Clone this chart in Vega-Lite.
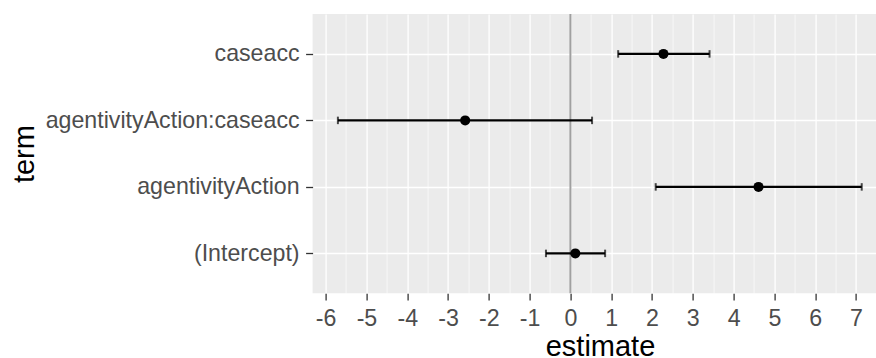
{
  "$schema": "https://vega.github.io/schema/vega-lite/v6.json",
  "autosize": {"type": "none"},
  "padding": {"left": 312.6, "top": 14, "right": 0, "bottom": 64.7},
  "width": 563.4,
  "height": 279.3,
  "background": "white",
  "config": {
    "view": {"fill": "#EBEBEB", "stroke": null},
    "font": "Liberation Sans"
  },
  "datasets": {
    "coefs": [
      {"term": "caseacc", "estimate": 2.28, "lower": 1.17, "upper": 3.41},
      {"term": "agentivityAction:caseacc", "estimate": -2.58, "lower": -5.70, "upper": 0.53},
      {"term": "agentivityAction", "estimate": 4.61, "lower": 2.09, "upper": 7.14},
      {"term": "(Intercept)", "estimate": 0.12, "lower": -0.60, "upper": 0.85}
    ],
    "ref": [{"ref": 0}]
  },
  "resolve": {"axis": {"x": "independent"}},
  "layer": [
    {
      "data": {"name": "ref"},
      "mark": {"type": "rule", "color": "#A0A0A0", "strokeWidth": 2},
      "encoding": {
        "x": {
          "field": "ref", "type": "quantitative",
          "scale": {"domain": [-6.32, 7.49], "nice": false, "zero": false},
          "axis": {
            "orient": "top", "values": [-5.5, -4.5, -3.5, -2.5, -1.5, -0.5, 0.5, 1.5, 2.5, 3.5, 4.5, 5.5, 6.5],
            "grid": true, "gridColor": "#FFFFFF", "gridWidth": 0.6, "gridOpacity": 1,
            "labels": false, "ticks": false, "domain": false, "title": null
          }
        }
      }
    },
    {
      "data": {"name": "coefs"},
      "mark": {"type": "rule", "color": "black", "strokeWidth": 2.2},
      "encoding": {
        "x": {
          "field": "lower", "type": "quantitative",
          "scale": {"domain": [-6.32, 7.49], "nice": false, "zero": false},
          "axis": {
            "orient": "bottom",
            "values": [-6, -5, -4, -3, -2, -1, 0, 1, 2, 3, 4, 5, 6, 7],
            "labelExpr": "toString(datum.value)",
            "grid": true, "gridColor": "#FFFFFF", "gridWidth": 1.3, "gridOpacity": 1,
            "domain": false,
            "ticks": true, "tickColor": "#333333", "tickSize": 6.7, "tickWidth": 1.3,
            "labelFontSize": 23.2, "labelColor": "#4D4D4D", "labelPadding": 7.5, "labelFont": "Liberation Sans",
            "labelFlush": false, "labelOverlap": false,
            "title": "estimate", "titleFontSize": 29, "titleFontWeight": "normal", "titleColor": "#000000",
            "titleFont": "Liberation Sans", "titleX": 287.4, "titleY": 62.5, "titleBaseline": "alphabetic", "titleAlign": "center"
          }
        },
        "x2": {"field": "upper"},
        "y": {
          "field": "term", "type": "nominal",
          "scale": {"type": "point", "padding": 0.6, "domain": ["caseacc", "agentivityAction:caseacc", "agentivityAction", "(Intercept)"]},
          "axis": {
            "grid": true, "gridColor": "#FFFFFF", "gridWidth": 1.3, "gridOpacity": 1,
            "domain": false,
            "ticks": true, "tickColor": "#333333", "tickSize": 7, "tickWidth": 1.3,
            "labelFontSize": 23.2, "labelColor": "#4D4D4D", "labelPadding": 6.5, "labelFont": "Liberation Sans",
            "labelLimit": 400,
            "title": "term", "titleFontSize": 29, "titleFontWeight": "normal", "titleColor": "#000000",
            "titleFont": "Liberation Sans", "titleAngle": -90, "titleX": -279.6, "titleY": 139.6,
            "titleBaseline": "alphabetic", "titleAlign": "center"
          }
        }
      }
    },
    {
      "data": {"name": "coefs"},
      "mark": {"type": "tick", "color": "black", "thickness": 2, "size": 7.5, "orient": "vertical"},
      "encoding": {
        "x": {"field": "lower", "type": "quantitative", "axis": null},
        "y": {"field": "term", "type": "nominal"}
      }
    },
    {
      "data": {"name": "coefs"},
      "mark": {"type": "tick", "color": "black", "thickness": 2, "size": 7.5, "orient": "vertical"},
      "encoding": {
        "x": {"field": "upper", "type": "quantitative", "axis": null},
        "y": {"field": "term", "type": "nominal"}
      }
    },
    {
      "data": {"name": "coefs"},
      "mark": {"type": "circle", "color": "black", "opacity": 1, "size": 100},
      "encoding": {
        "x": {"field": "estimate", "type": "quantitative", "axis": null},
        "y": {"field": "term", "type": "nominal"}
      }
    }
  ]
}
